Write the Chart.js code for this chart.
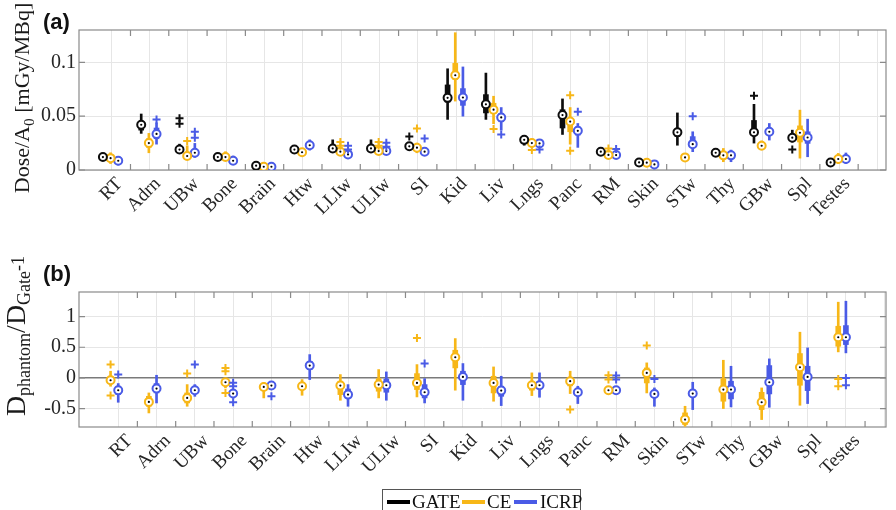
<!DOCTYPE html>
<html>
<head>
<meta charset="utf-8">
<script src="https://cdn.jsdelivr.net/npm/chart.js@4.4.1/dist/chart.umd.min.js"></script>
<style>
  html, body { margin:0; padding:0; background:#fff; }
  body { width:896px; height:510px; overflow:hidden; position:relative; font-family:"Liberation Serif","Times New Roman",serif; color:#1a1a1a; }
  #wa { position:absolute; left:0; top:0; width:896px; height:232px; }
  #wb { position:absolute; left:0; top:232px; width:896px; height:258px; }
  .pl { position:absolute; font-family:"Liberation Sans",Arial,sans-serif; font-weight:bold; font-size:22px; line-height:22px; color:#111; }
  .yt { position:absolute; white-space:nowrap; transform:translate(-50%,-50%) rotate(-90deg); font-size:22px; line-height:24px; color:#1a1a1a; }
  .yt sub { font-size:70%; vertical-align:-0.3em; line-height:0; }
  .yt2 { font-size:28px; line-height:28px; }
  .yt2 sub { font-size:18px; vertical-align:-0.3em; }
  .yt2 .sp { font-size:18px; vertical-align:0.05em; }
  #legend { position:absolute; left:382px; top:489px; width:197px; height:28px; border:1px solid #555; background:#fff; }
  #legend .ln { position:absolute; top:10px; width:23px; height:4px; }
  #legend .lt { position:absolute; top:1px; font-size:19px; line-height:22px; color:#111; }
</style>
</head>
<body>
<div id="wa"><canvas id="ca" width="896" height="232"></canvas></div>
<div id="wb"><canvas id="cb" width="896" height="258"></canvas></div>
<div class="pl" style="left:43px;top:11px;">(a)</div>
<div class="pl" style="left:43px;top:263px;">(b)</div>
<div class="yt" style="left:22px;top:98px;">Dose/A<sub>0</sub> [mGy/MBq]</div>
<div class="yt yt2" style="left:17px;top:336px;">D<sub>phantom</sub>/D<sub>Gate</sub><span class="sp">-1</span></div>
<div id="legend">
  <span class="ln" style="left:4px;background:#000;"></span><span class="lt" style="left:29px;">GATE</span>
  <span class="ln" style="left:79px;background:#f7b718;"></span><span class="lt" style="left:104px;">CE</span>
  <span class="ln" style="left:131px;background:#4a5be6;"></span><span class="lt" style="left:157px;">ICRP</span>
</div>
<script>
// ---------------- data ----------------
const categories = ['RT','Adrn','UBw','Bone','Brain','Htw','LLIw','ULIw','SI','Kid','Liv','Lngs','Panc','RM','Skin','STw','Thy','GBw','Spl','Testes'];
const seriesNames = ['GATE','CE','ICRP'];

const yTicksA = [0, 0.05, 0.1];
const yTickLabelsA = ['0', '0.05', '0.1'];
const yTicksB = [-0.5, 0, 0.5, 1];
const yTickLabelsB = ['-0.5', '0', '0.5', '1'];

// Panel (a): Dose/A0 [mGy/MBq]
const gateMedA = [0.012,0.042,0.019,0.012,0.004,0.019,0.020,0.020,0.022,0.067,0.061,0.028,0.051,0.017,0.007,0.035,0.016,0.035,0.030,0.007];
const gateQ1A  = [0.011,0.037,0.018,0.011,0.003,0.018,0.019,0.019,0.021,0.063,0.053,0.026,0.039,0.016,0.006,0.031,0.015,0.032,0.029,0.006];
const gateQ3A  = [0.013,0.045,0.021,0.013,0.005,0.020,0.022,0.022,0.024,0.079,0.070,0.029,0.056,0.018,0.008,0.038,0.017,0.046,0.032,0.008];
const gateLoA  = [0.010,0.034,0.016,0.010,0.002,0.017,0.017,0.017,0.018,0.047,0.047,0.023,0.033,0.015,0.005,0.023,0.014,0.025,0.026,0.005];
const gateHiA  = [0.014,0.052,0.024,0.014,0.008,0.022,0.028,0.028,0.025,0.094,0.090,0.032,0.066,0.019,0.009,0.053,0.018,0.061,0.037,0.009];
const gateOutA = [[],[],[0.048,0.043],[],[],[],[],[],[0.031],[],[],[],[],[],[],[],[],[0.069],[0.019],[]];

const ceMedA = [0.011,0.025,0.013,0.012,0.003,0.0165,0.017,0.0176,0.0207,0.088,0.056,0.025,0.045,0.014,0.0068,0.0117,0.0136,0.0225,0.0346,0.0102];
const ceQ1A  = [0.009,0.021,0.011,0.010,0.001,0.015,0.016,0.016,0.019,0.084,0.0525,0.023,0.0355,0.013,0.004,0.011,0.011,0.021,0.026,0.009];
const ceQ3A  = [0.013,0.029,0.016,0.014,0.005,0.018,0.019,0.019,0.023,0.099,0.062,0.027,0.048,0.016,0.009,0.0125,0.016,0.024,0.041,0.012];
const ceLoA  = [0.006,0.016,0.010,0.009,0.0005,0.014,0.015,0.015,0.016,0.064,0.043,0.021,0.024,0.012,0.003,0.0105,0.0077,0.020,0.011,0.006];
const ceHiA  = [0.016,0.034,0.0225,0.017,0.006,0.020,0.020,0.020,0.025,0.1275,0.0685,0.029,0.058,0.017,0.010,0.013,0.020,0.027,0.0556,0.0154];
const ceOutA = [[],[],[0.027],[],[],[],[0.026,0.0225],[0.026,0.0225],[0.0386],[],[0.038],[0.0185],[0.0694,0.0179],[0.020],[],[],[],[],[],[]];

const icrpMedA = [0.0086,0.0335,0.016,0.0086,0.003,0.023,0.0145,0.0176,0.017,0.0673,0.0488,0.0247,0.0364,0.0139,0.0052,0.024,0.0136,0.0355,0.0302,0.0102];
const icrpQ1A  = [0.007,0.029,0.013,0.007,0.001,0.021,0.013,0.016,0.016,0.060,0.0448,0.023,0.0324,0.013,0.002,0.0216,0.012,0.033,0.0247,0.009];
const icrpQ3A  = [0.010,0.039,0.019,0.010,0.005,0.025,0.016,0.019,0.018,0.0756,0.0525,0.026,0.040,0.015,0.008,0.031,0.015,0.038,0.0355,0.012];
const icrpLoA  = [0.0046,0.024,0.0117,0.006,0.0005,0.0185,0.012,0.015,0.014,0.050,0.037,0.021,0.021,0.012,0.001,0.017,0.0077,0.0278,0.0123,0.006];
const icrpHiA  = [0.012,0.0438,0.0247,0.013,0.006,0.028,0.017,0.0195,0.020,0.0957,0.058,0.028,0.0432,0.016,0.009,0.0355,0.0185,0.0432,0.0472,0.0158];
const icrpOutA = [[],[0.047],[0.0355,0.030],[],[],[],[0.0225,0.019],[0.0253,0.0216],[0.0293],[],[0.033],[0.019],[0.054],[0.0194],[],[0.050],[],[],[],[]];

// Panel (b): D_phantom/D_Gate - 1
const ceMedB = [-0.038,-0.391,-0.326,-0.071,-0.147,-0.136,-0.125,-0.109,-0.082,0.337,-0.082,-0.12,-0.054,-0.201,0.082,-0.679,-0.19,-0.397,0.174,0.663];
const ceQ1B  = [-0.08,-0.462,-0.408,-0.12,-0.20,-0.19,-0.272,-0.217,-0.19,0.163,-0.245,-0.20,-0.13,-0.22,-0.082,-0.76,-0.38,-0.516,-0.12,0.516];
const ceQ3B  = [0.027,-0.30,-0.245,-0.03,-0.11,-0.08,-0.054,0.0,0.07,0.451,0.027,-0.06,0.0,-0.18,0.163,-0.57,0.0,-0.234,0.397,0.842];
const ceLoB  = [-0.136,-0.571,-0.462,-0.163,-0.326,-0.283,-0.364,-0.326,-0.31,-0.20,-0.38,-0.288,-0.255,-0.24,-0.245,-0.788,-0.50,-0.679,-0.446,0.424];
const ceHiB  = [0.109,-0.245,-0.109,0.0,-0.08,-0.027,0.054,0.136,0.217,0.641,0.179,0.082,0.109,-0.16,0.245,-0.462,0.288,-0.163,0.745,1.234];
const ceOutB = [[0.217,-0.288],[],[0.071],[0.16,0.11,-0.245],[],[],[],[],[0.652],[],[],[],[-0.516],[0.043,-0.027],[0.527],[],[],[],[],[-0.016,-0.136]];

const icrpMedB = [-0.201,-0.174,-0.201,-0.255,-0.125,0.201,-0.272,-0.12,-0.234,0.016,-0.207,-0.12,-0.234,-0.201,-0.261,-0.255,-0.19,-0.071,0.016,0.663];
const icrpQ1B  = [-0.272,-0.245,-0.25,-0.29,-0.15,0.136,-0.326,-0.234,-0.326,-0.109,-0.30,-0.18,-0.28,-0.22,-0.30,-0.31,-0.342,-0.261,-0.207,0.543];
const icrpQ3B  = [-0.136,-0.092,-0.15,-0.22,-0.10,0.27,-0.18,-0.016,-0.109,0.109,-0.136,-0.07,-0.19,-0.18,-0.20,-0.19,-0.054,0.201,0.19,0.853];
const icrpLoB  = [-0.397,-0.408,-0.30,-0.33,-0.16,-0.027,-0.462,-0.364,-0.408,-0.364,-0.451,-0.315,-0.418,-0.23,-0.462,-0.516,-0.473,-0.478,-0.418,0.408];
const icrpHiB  = [-0.092,0.043,-0.109,-0.19,-0.06,0.38,-0.109,0.098,0.0,0.234,0.027,0.082,-0.136,-0.17,-0.163,-0.071,0.19,0.31,0.489,1.25];
const icrpOutB = [[0.054],[],[0.217],[-0.08,-0.136,-0.397],[-0.30],[],[],[],[0.234],[],[],[],[],[0.038,-0.027],[-0.016],[],[],[],[],[0.0,-0.12]];

// ---------------- styling ----------------
const COLORS = { GATE:'#0d0d0d', CE:'#f7b718', ICRP:'#4a5be6' };
const OFFSETS = { GATE:-0.2, CE:0, ICRP:0.2 };
const FONT = '"Liberation Serif","Times New Roman",serif';
Chart.defaults.font.family = FONT;
Chart.defaults.color = '#262626';

function seriesDatasets(name, med, q1, q3, lo, hi, out) {
  const color = COLORS[name];
  const pos = i => i + 1 + OFFSETS[name];
  return [
    { type:'bar', label:name, data: lo.map((v,i)=>({x:pos(i), y:[v, hi[i]]})),
      backgroundColor:color, borderWidth:0, barThickness:2, maxBarThickness:2, grouped:false, order:5 },
    { type:'bar', label:name, data: q1.map((v,i)=>({x:pos(i), y:[v, q3[i]]})),
      backgroundColor:color, borderWidth:0, barThickness:5, maxBarThickness:5, grouped:false, order:4 },
    { type:'scatter', label:name, data: med.map((v,i)=>({x:pos(i), y:v})),
      pointRadius:4, pointBackgroundColor:'#ffffff', pointBorderColor:color, pointBorderWidth:2, order:3 },
    { type:'scatter', label:name, data: med.map((v,i)=>({x:pos(i), y:v})),
      pointRadius:1.1, pointBackgroundColor:'#000000', pointBorderWidth:0, order:2 },
    { type:'scatter', label:name, data: out.flatMap((arr,i)=>arr.map(v=>({x:pos(i), y:v}))),
      pointStyle:'cross', pointRadius:4, pointBorderColor:color, pointBorderWidth:2, order:1 }
  ];
}

const framePlugin = {
  id:'frame',
  beforeDatasetsDraw(chart) {
    const { ctx, chartArea:{left,right,top,bottom}, scales:{x,y} } = chart;
    ctx.save();
    ctx.strokeStyle = '#8a8a8a';
    ctx.lineWidth = 1.2;
    ctx.strokeRect(left, top, right-left, bottom-top);
    const L = 6;
    ctx.beginPath();
    x.ticks.forEach(t => { const p = x.getPixelForValue(t.value);
      ctx.moveTo(p, bottom); ctx.lineTo(p, bottom-L); ctx.moveTo(p, top); ctx.lineTo(p, top+L); });
    y.ticks.forEach(t => { const p = y.getPixelForValue(t.value);
      ctx.moveTo(left, p); ctx.lineTo(left+L, p); ctx.moveTo(right, p); ctx.lineTo(right-L, p); });
    ctx.stroke();
    ctx.restore();
  }
};

function makeChart(canvasId, datasets, cfg) {
  return new Chart(document.getElementById(canvasId), {
    type:'scatter',
    data:{ datasets },
    plugins:[framePlugin],
    options:{
      responsive:false, animation:false, devicePixelRatio:1, events:[],
      layout:{ padding:{ left:0, right:10, top:cfg.padTop, bottom:0 } },
      plugins:{ legend:{display:false}, tooltip:{enabled:false} },
      scales:{
        x:{ type:'linear', min:0.7024, max:20.72,
            afterBuildTicks: s => { s.ticks = categories.map((c,i)=>({ value: i + cfg.tickShift })); },
            afterFit: s => { s.height = cfg.xHeight; },
            ticks:{ autoSkip:false, minRotation:45, maxRotation:45, padding:3, color:'#262626',
                    labelOffset:cfg.labelOffset,
                    font:{ family:FONT, size:19 }, callback:(v,i)=>categories[i] },
            grid:{ color:'#e6e6e6', lineWidth:1, drawTicks:false },
            border:{ display:false } },
        y:{ type:'linear', min:cfg.yMin, max:cfg.yMax,
            afterBuildTicks: s => { s.ticks = cfg.yTicks.map(v=>({ value:v })); },
            afterFit: s => { s.width = 79; },
            ticks:{ padding:3, color:'#262626', font:{ family:FONT, size:20 },
                    callback:(v,i)=>cfg.yLabels[i] },
            grid:{ drawTicks:false,
                   color: c => (cfg.zeroLine && c.tick && c.tick.value === 0) ? '#7a7a7a' : '#e6e6e6',
                   lineWidth: c => (cfg.zeroLine && c.tick && c.tick.value === 0) ? 1.5 : 1 },
            border:{ display:false } }
      }
    }
  });
}

const dsA = [].concat(
  seriesDatasets('GATE', gateMedA, gateQ1A, gateQ3A, gateLoA, gateHiA, gateOutA),
  seriesDatasets('CE', ceMedA, ceQ1A, ceQ3A, ceLoA, ceHiA, ceOutA),
  seriesDatasets('ICRP', icrpMedA, icrpQ1A, icrpQ3A, icrpLoA, icrpHiA, icrpOutA)
);
const dsB = [].concat(
  seriesDatasets('CE', ceMedB, ceQ1B, ceQ3B, ceLoB, ceHiB, ceOutB),
  seriesDatasets('ICRP', icrpMedB, icrpQ1B, icrpQ3B, icrpLoB, icrpHiB, icrpOutB)
);

makeChart('ca', dsA, { padTop:30, xHeight:62, yMin:0, yMax:0.13, yTicks:yTicksA, yLabels:yTickLabelsA, tickShift:1.52, labelOffset:-11, zeroLine:false });
makeChart('cb', dsB, { padTop:60, xHeight:63, yMin:-0.8, yMax:1.4, yTicks:yTicksB, yLabels:yTickLabelsB, tickShift:1.7, labelOffset:-8, zeroLine:true });
</script>
</body>
</html>
